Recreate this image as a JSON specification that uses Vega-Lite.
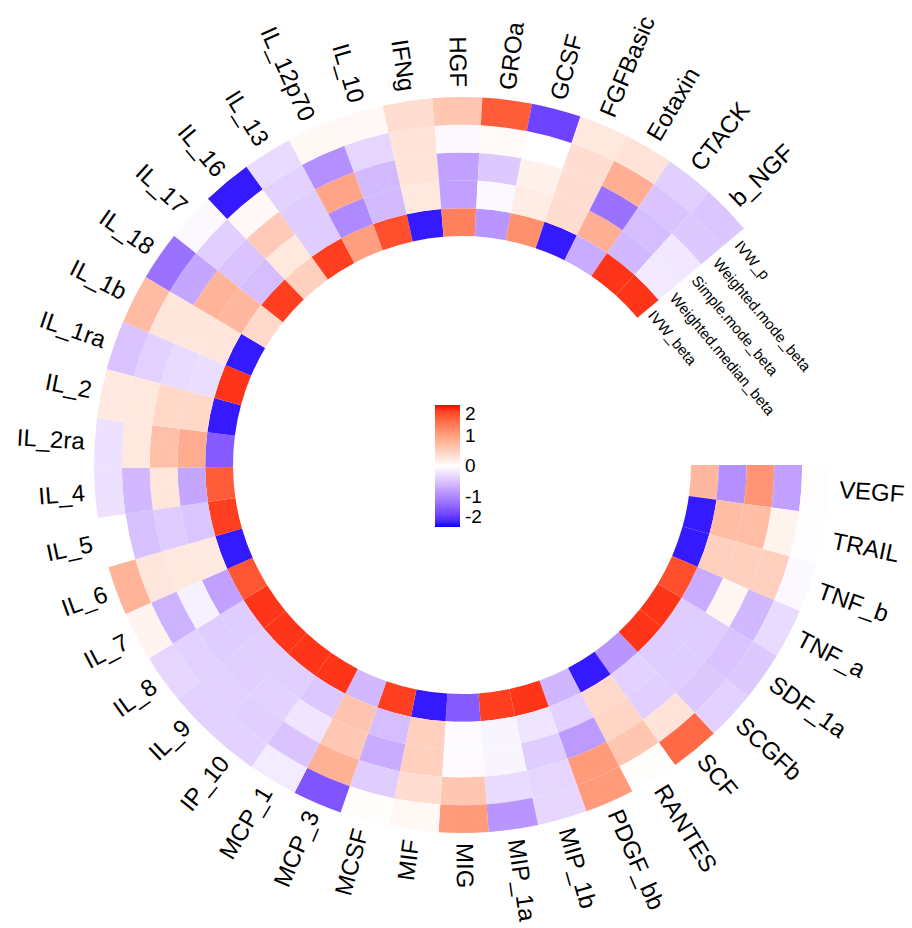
{
  "$schema": "https://vega.github.io/schema/vega-lite/v6.json",
  "autosize": "none",
  "width": 900,
  "height": 926,
  "padding": {"left": 12, "top": 2, "right": 0, "bottom": 0},
  "background": "white",
  "config": {"view": {"stroke": null}, "font": "Liberation Sans"},
  "datasets": {
    "cells": [
      {"c":"VEGF","m":"IVW_beta","v":0.75},{"c":"VEGF","m":"Weighted.median_beta","v":-0.95},{"c":"VEGF","m":"Simple.mode_beta","v":1.1},{"c":"VEGF","m":"Weighted.mode_beta","v":-0.8},{"c":"VEGF","m":"IVW_p","v":0.02},
      {"c":"TRAIL","m":"IVW_beta","v":-1.9},{"c":"TRAIL","m":"Weighted.median_beta","v":0.7},{"c":"TRAIL","m":"Simple.mode_beta","v":0.7},{"c":"TRAIL","m":"Weighted.mode_beta","v":0.13},{"c":"TRAIL","m":"IVW_p","v":-0.02},
      {"c":"TNF_b","m":"IVW_beta","v":-1.9},{"c":"TNF_b","m":"Weighted.median_beta","v":0.5},{"c":"TNF_b","m":"Simple.mode_beta","v":0.5},{"c":"TNF_b","m":"Weighted.mode_beta","v":0.5},{"c":"TNF_b","m":"IVW_p","v":-0.05},
      {"c":"TNF_a","m":"IVW_beta","v":1.7},{"c":"TNF_a","m":"Weighted.median_beta","v":-0.7},{"c":"TNF_a","m":"Simple.mode_beta","v":0.1},{"c":"TNF_a","m":"Weighted.mode_beta","v":-0.6},{"c":"TNF_a","m":"IVW_p","v":-0.3},
      {"c":"SDF_1a","m":"IVW_beta","v":1.85},{"c":"SDF_1a","m":"Weighted.median_beta","v":-0.42},{"c":"SDF_1a","m":"Simple.mode_beta","v":-0.42},{"c":"SDF_1a","m":"Weighted.mode_beta","v":-0.5},{"c":"SDF_1a","m":"IVW_p","v":-0.45},
      {"c":"SCGFb","m":"IVW_beta","v":1.85},{"c":"SCGFb","m":"Weighted.median_beta","v":-0.42},{"c":"SCGFb","m":"Simple.mode_beta","v":-0.42},{"c":"SCGFb","m":"Weighted.mode_beta","v":-0.45},{"c":"SCGFb","m":"IVW_p","v":-0.38},
      {"c":"SCF","m":"IVW_beta","v":-0.9},{"c":"SCF","m":"Weighted.median_beta","v":-0.38},{"c":"SCF","m":"Simple.mode_beta","v":-0.4},{"c":"SCF","m":"Weighted.mode_beta","v":0.3},{"c":"SCF","m":"IVW_p","v":1.5},
      {"c":"RANTES","m":"IVW_beta","v":-1.9},{"c":"RANTES","m":"Weighted.median_beta","v":0.4},{"c":"RANTES","m":"Simple.mode_beta","v":0.45},{"c":"RANTES","m":"Weighted.mode_beta","v":0.6},{"c":"RANTES","m":"IVW_p","v":0.02},
      {"c":"PDGF_bb","m":"IVW_beta","v":-0.62},{"c":"PDGF_bb","m":"Weighted.median_beta","v":-0.38},{"c":"PDGF_bb","m":"Simple.mode_beta","v":-0.85},{"c":"PDGF_bb","m":"Weighted.mode_beta","v":1.05},{"c":"PDGF_bb","m":"IVW_p","v":1.05},
      {"c":"MIP_1b","m":"IVW_beta","v":1.85},{"c":"MIP_1b","m":"Weighted.median_beta","v":-0.22},{"c":"MIP_1b","m":"Simple.mode_beta","v":-0.42},{"c":"MIP_1b","m":"Weighted.mode_beta","v":-0.35},{"c":"MIP_1b","m":"IVW_p","v":-0.33},
      {"c":"MIP_1a","m":"IVW_beta","v":1.8},{"c":"MIP_1a","m":"Weighted.median_beta","v":-0.08},{"c":"MIP_1a","m":"Simple.mode_beta","v":-0.08},{"c":"MIP_1a","m":"Weighted.mode_beta","v":-0.3},{"c":"MIP_1a","m":"IVW_p","v":-0.9},
      {"c":"MIG","m":"IVW_beta","v":-1.4},{"c":"MIG","m":"Weighted.median_beta","v":-0.03},{"c":"MIG","m":"Simple.mode_beta","v":-0.03},{"c":"MIG","m":"Weighted.mode_beta","v":0.6},{"c":"MIG","m":"IVW_p","v":1.05},
      {"c":"MIF","m":"IVW_beta","v":-1.9},{"c":"MIF","m":"Weighted.median_beta","v":0.5},{"c":"MIF","m":"Simple.mode_beta","v":0.5},{"c":"MIF","m":"Weighted.mode_beta","v":0.35},{"c":"MIF","m":"IVW_p","v":0.08},
      {"c":"MCSF","m":"IVW_beta","v":1.8},{"c":"MCSF","m":"Weighted.median_beta","v":-0.55},{"c":"MCSF","m":"Simple.mode_beta","v":-0.7},{"c":"MCSF","m":"Weighted.mode_beta","v":-0.42},{"c":"MCSF","m":"IVW_p","v":0.02},
      {"c":"MCP_3","m":"IVW_beta","v":-0.6},{"c":"MCP_3","m":"Weighted.median_beta","v":0.62},{"c":"MCP_3","m":"Simple.mode_beta","v":0.58},{"c":"MCP_3","m":"Weighted.mode_beta","v":0.82},{"c":"MCP_3","m":"IVW_p","v":-1.45},
      {"c":"MCP_1","m":"IVW_beta","v":1.85},{"c":"MCP_1","m":"Weighted.median_beta","v":-0.47},{"c":"MCP_1","m":"Simple.mode_beta","v":-0.22},{"c":"MCP_1","m":"Weighted.mode_beta","v":-0.5},{"c":"MCP_1","m":"IVW_p","v":-0.17},
      {"c":"IP_10","m":"IVW_beta","v":1.85},{"c":"IP_10","m":"Weighted.median_beta","v":-0.4},{"c":"IP_10","m":"Simple.mode_beta","v":-0.38},{"c":"IP_10","m":"Weighted.mode_beta","v":-0.4},{"c":"IP_10","m":"IVW_p","v":-0.38},
      {"c":"IL_9","m":"IVW_beta","v":1.85},{"c":"IL_9","m":"Weighted.median_beta","v":-0.4},{"c":"IL_9","m":"Simple.mode_beta","v":-0.4},{"c":"IL_9","m":"Weighted.mode_beta","v":-0.38},{"c":"IL_9","m":"IVW_p","v":-0.38},
      {"c":"IL_8","m":"IVW_beta","v":1.85},{"c":"IL_8","m":"Weighted.median_beta","v":-0.42},{"c":"IL_8","m":"Simple.mode_beta","v":-0.42},{"c":"IL_8","m":"Weighted.mode_beta","v":-0.38},{"c":"IL_8","m":"IVW_p","v":-0.33},
      {"c":"IL_7","m":"IVW_beta","v":1.65},{"c":"IL_7","m":"Weighted.median_beta","v":-0.8},{"c":"IL_7","m":"Simple.mode_beta","v":-0.12},{"c":"IL_7","m":"Weighted.mode_beta","v":-0.65},{"c":"IL_7","m":"IVW_p","v":0.12},
      {"c":"IL_6","m":"IVW_beta","v":-1.9},{"c":"IL_6","m":"Weighted.median_beta","v":0.22},{"c":"IL_6","m":"Simple.mode_beta","v":0.25},{"c":"IL_6","m":"Weighted.mode_beta","v":0.27},{"c":"IL_6","m":"IVW_p","v":0.8},
      {"c":"IL_5","m":"IVW_beta","v":1.8},{"c":"IL_5","m":"Weighted.median_beta","v":-0.48},{"c":"IL_5","m":"Simple.mode_beta","v":-0.42},{"c":"IL_5","m":"Weighted.mode_beta","v":-0.52},{"c":"IL_5","m":"IVW_p","v":0.0},
      {"c":"IL_4","m":"IVW_beta","v":1.6},{"c":"IL_4","m":"Weighted.median_beta","v":-0.75},{"c":"IL_4","m":"Simple.mode_beta","v":0.28},{"c":"IL_4","m":"Weighted.mode_beta","v":-0.6},{"c":"IL_4","m":"IVW_p","v":-0.25},
      {"c":"IL_2ra","m":"IVW_beta","v":-1.4},{"c":"IL_2ra","m":"Weighted.median_beta","v":0.88},{"c":"IL_2ra","m":"Simple.mode_beta","v":0.68},{"c":"IL_2ra","m":"Weighted.mode_beta","v":0.25},{"c":"IL_2ra","m":"IVW_p","v":-0.25},
      {"c":"IL_2","m":"IVW_beta","v":-1.9},{"c":"IL_2","m":"Weighted.median_beta","v":0.42},{"c":"IL_2","m":"Simple.mode_beta","v":0.42},{"c":"IL_2","m":"Weighted.mode_beta","v":0.25},{"c":"IL_2","m":"IVW_p","v":0.23},
      {"c":"IL_1ra","m":"IVW_beta","v":1.85},{"c":"IL_1ra","m":"Weighted.median_beta","v":-0.27},{"c":"IL_1ra","m":"Simple.mode_beta","v":-0.3},{"c":"IL_1ra","m":"Weighted.mode_beta","v":-0.38},{"c":"IL_1ra","m":"IVW_p","v":-0.5},
      {"c":"IL_1b","m":"IVW_beta","v":-1.9},{"c":"IL_1b","m":"Weighted.median_beta","v":0.28},{"c":"IL_1b","m":"Simple.mode_beta","v":0.27},{"c":"IL_1b","m":"Weighted.mode_beta","v":0.28},{"c":"IL_1b","m":"IVW_p","v":0.72},
      {"c":"IL_18","m":"IVW_beta","v":0.4},{"c":"IL_18","m":"Weighted.median_beta","v":0.75},{"c":"IL_18","m":"Simple.mode_beta","v":0.8},{"c":"IL_18","m":"Weighted.mode_beta","v":-0.75},{"c":"IL_18","m":"IVW_p","v":-1.2},
      {"c":"IL_17","m":"IVW_beta","v":1.8},{"c":"IL_17","m":"Weighted.median_beta","v":-0.55},{"c":"IL_17","m":"Simple.mode_beta","v":-0.5},{"c":"IL_17","m":"Weighted.mode_beta","v":-0.4},{"c":"IL_17","m":"IVW_p","v":-0.05},
      {"c":"IL_16","m":"IVW_beta","v":0.5},{"c":"IL_16","m":"Weighted.median_beta","v":0.25},{"c":"IL_16","m":"Simple.mode_beta","v":0.55},{"c":"IL_16","m":"Weighted.mode_beta","v":0.07},{"c":"IL_16","m":"IVW_p","v":-1.9},
      {"c":"IL_13","m":"IVW_beta","v":1.8},{"c":"IL_13","m":"Weighted.median_beta","v":-0.42},{"c":"IL_13","m":"Simple.mode_beta","v":-0.42},{"c":"IL_13","m":"Weighted.mode_beta","v":-0.38},{"c":"IL_13","m":"IVW_p","v":-0.3},
      {"c":"IL_12p70","m":"IVW_beta","v":1.0},{"c":"IL_12p70","m":"Weighted.median_beta","v":-1.0},{"c":"IL_12p70","m":"Simple.mode_beta","v":0.95},{"c":"IL_12p70","m":"Weighted.mode_beta","v":-0.95},{"c":"IL_12p70","m":"IVW_p","v":0.08},
      {"c":"IL_10","m":"IVW_beta","v":1.7},{"c":"IL_10","m":"Weighted.median_beta","v":-0.58},{"c":"IL_10","m":"Simple.mode_beta","v":-0.58},{"c":"IL_10","m":"Weighted.mode_beta","v":-0.35},{"c":"IL_10","m":"IVW_p","v":0.07},
      {"c":"IFNg","m":"IVW_beta","v":-1.9},{"c":"IFNg","m":"Weighted.median_beta","v":0.25},{"c":"IFNg","m":"Simple.mode_beta","v":0.3},{"c":"IFNg","m":"Weighted.mode_beta","v":0.3},{"c":"IFNg","m":"IVW_p","v":0.35},
      {"c":"HGF","m":"IVW_beta","v":1.3},{"c":"HGF","m":"Weighted.median_beta","v":-0.8},{"c":"HGF","m":"Simple.mode_beta","v":-0.8},{"c":"HGF","m":"Weighted.mode_beta","v":-0.05},{"c":"HGF","m":"IVW_p","v":0.6},
      {"c":"GROa","m":"IVW_beta","v":-0.9},{"c":"GROa","m":"Weighted.median_beta","v":-0.05},{"c":"GROa","m":"Simple.mode_beta","v":-0.45},{"c":"GROa","m":"Weighted.mode_beta","v":0.05},{"c":"GROa","m":"IVW_p","v":1.6},
      {"c":"GCSF","m":"IVW_beta","v":1.15},{"c":"GCSF","m":"Weighted.median_beta","v":0.2},{"c":"GCSF","m":"Simple.mode_beta","v":0.15},{"c":"GCSF","m":"Weighted.mode_beta","v":0.0},{"c":"GCSF","m":"IVW_p","v":-1.6},
      {"c":"FGFBasic","m":"IVW_beta","v":-1.9},{"c":"FGFBasic","m":"Weighted.median_beta","v":0.35},{"c":"FGFBasic","m":"Simple.mode_beta","v":0.35},{"c":"FGFBasic","m":"Weighted.mode_beta","v":0.35},{"c":"FGFBasic","m":"IVW_p","v":0.25},
      {"c":"Eotaxin","m":"IVW_beta","v":-0.7},{"c":"Eotaxin","m":"Weighted.median_beta","v":0.85},{"c":"Eotaxin","m":"Simple.mode_beta","v":-1.2},{"c":"Eotaxin","m":"Weighted.mode_beta","v":0.85},{"c":"Eotaxin","m":"IVW_p","v":0.3},
      {"c":"CTACK","m":"IVW_beta","v":1.85},{"c":"CTACK","m":"Weighted.median_beta","v":-0.6},{"c":"CTACK","m":"Simple.mode_beta","v":-0.55},{"c":"CTACK","m":"Weighted.mode_beta","v":-0.5},{"c":"CTACK","m":"IVW_p","v":-0.4},
      {"c":"b_NGF","m":"IVW_beta","v":1.85},{"c":"b_NGF","m":"Weighted.median_beta","v":-0.18},{"c":"b_NGF","m":"Simple.mode_beta","v":-0.2},{"c":"b_NGF","m":"Weighted.mode_beta","v":-0.45},{"c":"b_NGF","m":"IVW_p","v":-0.48}
    ]
  },
  "data": {"name": "cells"},
  "layer": [
    {
      "mark": {"type": "arc"},
      "encoding": {
        "theta": {"field": "c", "type": "nominal", "scale": {"type": "band", "domain": ["VEGF","TRAIL","TNF_b","TNF_a","SDF_1a","SCGFb","SCF","RANTES","PDGF_bb","MIP_1b","MIP_1a","MIG","MIF","MCSF","MCP_3","MCP_1","IP_10","IL_9","IL_8","IL_7","IL_6","IL_5","IL_4","IL_2ra","IL_2","IL_1ra","IL_1b","IL_18","IL_17","IL_16","IL_13","IL_12p70","IL_10","IFNg","HGF","GROa","GCSF","FGFBasic","Eotaxin","CTACK","b_NGF"], "range": [1.5707963, 7.1558499], "paddingInner": 0, "paddingOuter": 0}},
        "radius": {"field": "m", "type": "nominal", "scale": {"type": "band", "domain": ["IVW_beta","Weighted.median_beta","Simple.mode_beta","Weighted.mode_beta","IVW_p"], "range": [229, 368], "paddingInner": 0, "paddingOuter": 0}},
        "color": {
          "field": "v", "type": "quantitative",
          "scale": {"type": "linear", "domain": [-2, 0, 2], "range": ["#0000FF", "#FFFFFF", "#FF0000"], "interpolate": "lab", "clamp": true},
          "legend": {
            "title": null, "orient": "none", "legendX": 423, "legendY": 403, "direction": "vertical",
            "gradientLength": 122, "gradientThickness": 25, "gradientStrokeWidth": 0,
            "values": [-2, -1, 0, 1, 2], "labelFontSize": 19, "labelFont": "Liberation Sans", "labelColor": "black",
            "labelOverlap": false, "labelOffset": 5, "labelExpr": "'' + datum.value", "padding": 0
          }
        }
      }
    },
    {
      "transform": [
        {"filter": {"field": "m", "equal": "IVW_beta"}},
        {"filter": {"field": "c", "oneOf": ["VEGF","TRAIL","TNF_b","TNF_a","SDF_1a","SCGFb","SCF","RANTES","PDGF_bb","MIP_1b","MIP_1a","MIG"]}}
      ],
      "mark": {"type": "text", "align": "left", "baseline": "middle", "fontSize": 24, "font": "Liberation Sans", "color": "black", "radiusOffset": 10},
      "encoding": {
        "theta": {"field": "c", "type": "nominal"},
        "radius": {"datum": "IVW_p", "type": "nominal", "bandPosition": 1},
        "text": {"field": "c"},
        "angle": {"field": "c", "type": "ordinal", "scale": {"type": "point", "domain": ["VEGF","TRAIL","TNF_b","TNF_a","SDF_1a","SCGFb","SCF","RANTES","PDGF_bb","MIP_1b","MIP_1a","MIG"], "range": [0, 93.6585], "padding": 0.5}, "legend": null}
      }
    },
    {
      "transform": [
        {"filter": {"field": "m", "equal": "IVW_beta"}},
        {"filter": {"field": "c", "oneOf": ["MIF","MCSF","MCP_3","MCP_1","IP_10","IL_9","IL_8","IL_7","IL_6","IL_5","IL_4","IL_2ra","IL_2","IL_1ra","IL_1b","IL_18","IL_17","IL_16","IL_13","IL_12p70","IL_10","IFNg","HGF"]}}
      ],
      "mark": {"type": "text", "align": "right", "baseline": "middle", "fontSize": 24, "font": "Liberation Sans", "color": "black", "radiusOffset": 10},
      "encoding": {
        "theta": {"field": "c", "type": "nominal"},
        "radius": {"datum": "IVW_p", "type": "nominal", "bandPosition": 1},
        "text": {"field": "c"},
        "angle": {"field": "c", "type": "ordinal", "scale": {"type": "point", "domain": ["MIF","MCSF","MCP_3","MCP_1","IP_10","IL_9","IL_8","IL_7","IL_6","IL_5","IL_4","IL_2ra","IL_2","IL_1ra","IL_1b","IL_18","IL_17","IL_16","IL_13","IL_12p70","IL_10","IFNg","HGF"], "range": [-86.3415, 93.1707], "padding": 0.5}, "legend": null}
      }
    },
    {
      "transform": [
        {"filter": {"field": "m", "equal": "IVW_beta"}},
        {"filter": {"field": "c", "oneOf": ["GROa","GCSF","FGFBasic","Eotaxin","CTACK","b_NGF"]}}
      ],
      "mark": {"type": "text", "align": "left", "baseline": "middle", "fontSize": 24, "font": "Liberation Sans", "color": "black", "radiusOffset": 10},
      "encoding": {
        "theta": {"field": "c", "type": "nominal"},
        "radius": {"datum": "IVW_p", "type": "nominal", "bandPosition": 1},
        "text": {"field": "c"},
        "angle": {"field": "c", "type": "ordinal", "scale": {"type": "point", "domain": ["GROa","GCSF","FGFBasic","Eotaxin","CTACK","b_NGF"], "range": [-86.8293, -40], "padding": 0.5}, "legend": null}
      }
    },
    {
      "transform": [
        {"filter": {"field": "c", "equal": "b_NGF"}}
      ],
      "mark": {"type": "text", "align": "left", "baseline": "middle", "fontSize": 15, "font": "Liberation Sans", "color": "black", "angle": 50, "thetaOffset": 0.02},
      "encoding": {
        "theta": {"datum": "b_NGF", "type": "nominal", "bandPosition": 1},
        "radius": {"field": "m", "type": "nominal"},
        "text": {"field": "m"}
      }
    }
  ],
  "resolve": {"scale": {"angle": "independent"}}
}
